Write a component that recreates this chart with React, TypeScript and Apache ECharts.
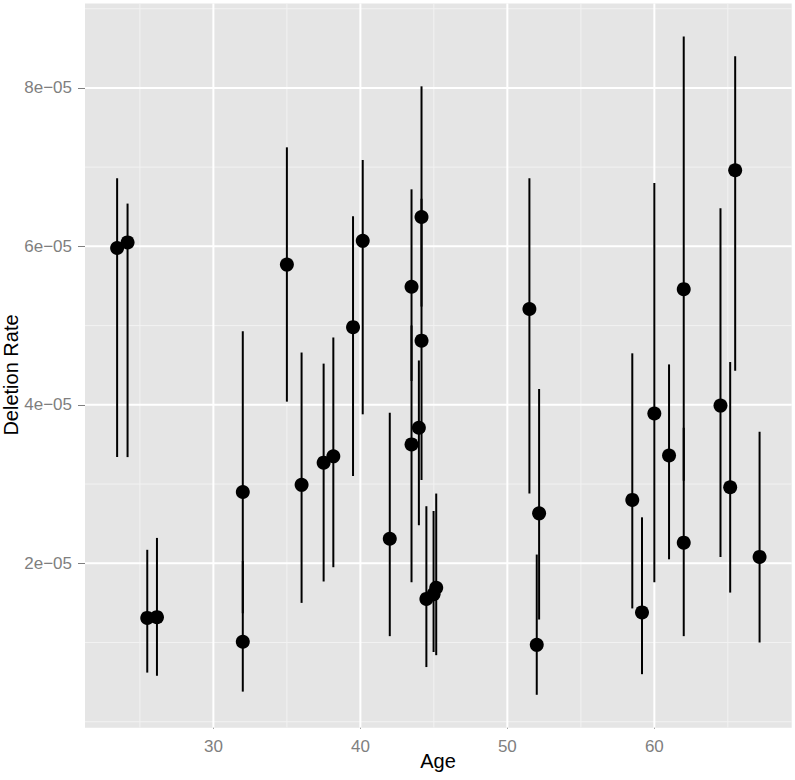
import React, { useEffect, useRef } from "react";
import * as echarts from "echarts";

// Age (years) of each sample
const ages = [
  23.45, 24.16, 25.5, 26.16, 32.0, 32.0, 35.0, 36.0, 37.5, 38.16, 39.5, 40.16,
  42.0, 43.48, 43.48, 44.16, 44.16, 43.98, 44.49, 44.98, 45.16, 51.5, 52.16,
  52.0, 58.5, 59.16, 60.0, 61.0, 62.0, 62.0, 64.5, 65.16, 65.5, 67.16,
];
// Deletion rate point estimates
const rates = [
  5.98e-5, 6.05e-5, 1.31e-5, 1.32e-5, 2.9e-5, 1.01e-5, 5.77e-5, 2.99e-5,
  3.27e-5, 3.35e-5, 4.98e-5, 6.07e-5, 2.31e-5, 5.49e-5, 3.5e-5, 6.37e-5,
  4.81e-5, 3.71e-5, 1.55e-5, 1.61e-5, 1.69e-5, 5.21e-5, 2.63e-5, 0.97e-5,
  2.8e-5, 1.38e-5, 3.89e-5, 3.36e-5, 5.46e-5, 2.26e-5, 3.99e-5, 2.96e-5,
  6.96e-5, 2.08e-5,
];
// Lower bounds of the intervals
const lowers = [
  3.34e-5, 3.34e-5, 0.62e-5, 0.58e-5, 1.37e-5, 0.38e-5, 4.04e-5, 1.5e-5,
  1.77e-5, 1.95e-5, 3.1e-5, 3.88e-5, 1.08e-5, 4.3e-5, 1.76e-5, 5.24e-5,
  3.05e-5, 2.48e-5, 0.69e-5, 0.88e-5, 0.84e-5, 2.88e-5, 1.29e-5, 0.34e-5,
  1.43e-5, 0.6e-5, 1.76e-5, 2.05e-5, 3.04e-5, 1.08e-5, 2.08e-5, 1.63e-5,
  4.43e-5, 1.0e-5,
];
// Upper bounds of the intervals
const uppers = [
  6.86e-5, 6.54e-5, 2.17e-5, 2.32e-5, 4.93e-5, 2.03e-5, 7.25e-5, 4.66e-5,
  4.52e-5, 4.85e-5, 6.38e-5, 7.09e-5, 3.9e-5, 6.72e-5, 5.0e-5, 8.02e-5,
  6.6e-5, 4.56e-5, 2.72e-5, 2.66e-5, 2.88e-5, 6.86e-5, 4.2e-5, 2.11e-5,
  4.65e-5, 2.58e-5, 6.8e-5, 4.51e-5, 8.65e-5, 3.71e-5, 6.48e-5, 4.54e-5,
  8.4e-5, 3.66e-5,
];

const xMajor = [30, 40, 50, 60];
const xMinor = [25, 35, 45, 55, 65];
const yMajor = [2e-5, 4e-5, 6e-5, 8e-5];
const yMinor = [0, 1e-5, 3e-5, 5e-5, 7e-5, 9e-5];
const yTickLabels = ["2e\u221205", "4e\u221205", "6e\u221205", "8e\u221205"];

const FONT = "'Liberation Sans', Arial, Helvetica, sans-serif";

export default function App() {
  const ref = useRef<HTMLDivElement>(null);

  useEffect(() => {
    if (!ref.current) return;
    const chart = echarts.init(ref.current, null, { renderer: "svg" });

    // ggplot-style expanded ranges (5% on each side)
    const xLo = Math.min(...ages);
    const xHi = Math.max(...ages);
    const xPad = (xHi - xLo) * 0.05;
    const yLo = Math.min(...lowers);
    const yHi = Math.max(...uppers);
    const yPad = (yHi - yLo) * 0.05;
    const xMid = (xLo + xHi) / 2;
    const yMid = (yLo + yHi) / 2;

    // grid line specs: [x, y, orientation (0 = vertical, 1 = horizontal), major flag]
    const gridData = [
      ...xMinor.map((v) => [v, yMid, 0, 0]),
      ...yMinor.map((v) => [xMid, v, 1, 0]),
      ...xMajor.map((v) => [v, yMid, 0, 1]),
      ...yMajor.map((v) => [xMid, v, 1, 1]),
    ];

    chart.setOption({
      animation: false,
      backgroundColor: "#FFFFFF",
      grid: {
        left: 85,
        right: 3.3,
        top: 3.5,
        bottom: 52.3,
        show: true,
        backgroundColor: "#E5E5E5",
        borderWidth: 0,
        containLabel: false,
        outerBoundsMode: "none",
      },
      xAxis: {
        type: "value",
        min: xLo - xPad,
        max: xHi + xPad,
        axisLine: { show: false },
        splitLine: { show: false },
        axisTick: {
          show: true,
          length: 7,
          customValues: xMajor,
          lineStyle: { color: "#7F7F7F", width: 1 },
        },
        axisLabel: {
          customValues: xMajor,
          margin: 10,
          color: "#7F7F7F",
          fontSize: 17,
          fontFamily: FONT,
        },
      },
      yAxis: {
        type: "value",
        min: yLo - yPad,
        max: yHi + yPad,
        axisLine: { show: false },
        splitLine: { show: false },
        axisTick: {
          show: true,
          length: 7,
          customValues: yMajor,
          lineStyle: { color: "#7F7F7F", width: 1 },
        },
        axisLabel: {
          customValues: yMajor,
          margin: 13,
          color: "#7F7F7F",
          fontSize: 17,
          fontFamily: FONT,
          formatter: (v: number) => {
            const i = yMajor.findIndex((m) => Math.abs(m - v) < 1e-9);
            return i >= 0 ? yTickLabels[i] : "";
          },
        },
      },
      graphic: [
        {
          type: "text",
          x: 438,
          y: 761,
          style: {
            text: "Age",
            fontSize: 20,
            fontFamily: FONT,
            fill: "#000000",
            align: "center",
            verticalAlign: "middle",
          },
        },
        {
          type: "text",
          x: 11,
          y: 375,
          rotation: Math.PI / 2,
          style: {
            text: "Deletion Rate",
            fontSize: 20,
            fontFamily: FONT,
            fill: "#000000",
            align: "center",
            verticalAlign: "middle",
          },
        },
      ],
      series: [
        {
          type: "custom",
          z: 1,
          silent: true,
          data: gridData,
          encode: { x: 0, y: 1 },
          renderItem: (params: any, api: any) => {
            const cs = params.coordSys;
            const p = api.coord([api.value(0), api.value(1)]);
            const vertical = api.value(2) === 0;
            const isMajor = api.value(3) === 1;
            const shape = vertical
              ? { x1: p[0], y1: cs.y, x2: p[0], y2: cs.y + cs.height }
              : { x1: cs.x, y1: p[1], x2: cs.x + cs.width, y2: p[1] };
            return {
              type: "line",
              shape,
              style: {
                stroke: isMajor ? "#FFFFFF" : "#F2F2F2",
                lineWidth: isMajor ? 2 : 1,
              },
            };
          },
        },
        {
          type: "custom",
          z: 3,
          silent: true,
          data: ages.map((a, i) => [a, lowers[i], uppers[i]]),
          encode: { x: 0, y: [1, 2] },
          renderItem: (_params: any, api: any) => {
            const x = api.value(0);
            const p1 = api.coord([x, api.value(1)]);
            const p2 = api.coord([x, api.value(2)]);
            return {
              type: "line",
              shape: { x1: p1[0], y1: p1[1], x2: p2[0], y2: p2[1] },
              style: { stroke: "#000000", lineWidth: 2 },
            };
          },
        },
        {
          type: "scatter",
          z: 4,
          symbol: "circle",
          symbolSize: 14,
          itemStyle: { color: "#000000", opacity: 1 },
          data: ages.map((a, i) => [a, rates[i]]),
        },
      ],
    });

    return () => chart.dispose();
  }, []);

  return (
    <div
      ref={ref}
      style={{ position: "absolute", left: 0, top: 0, width: 795, height: 780 }}
    />
  );
}
